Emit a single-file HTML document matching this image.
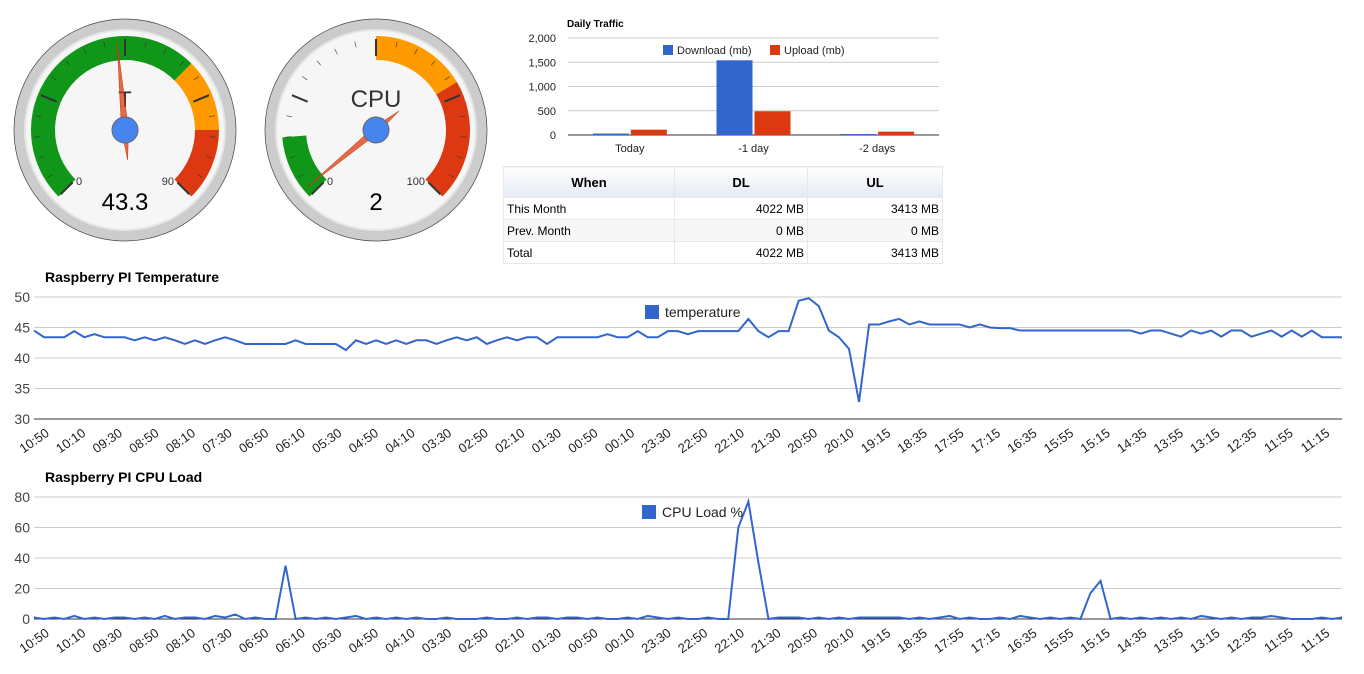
<!DOCTYPE html>
<html><head><meta charset="utf-8">
<style>
body{margin:0;background:#fff;font-family:"Liberation Sans",Arial,sans-serif;}
svg{position:absolute;left:0;top:0;}
table{position:absolute;left:503px;top:166px;border-collapse:collapse;font-size:12px;color:#000;}
td,th{border:1px solid #e8e8e8;padding:0 3px;height:21px;}
th{height:30px;background:linear-gradient(#fff,#e4e9f4);font-weight:bold;font-size:13px;}
td.n{text-align:right}
tr.alt td{background:#f7f7f7}
</style></head>
<body>
<svg id="s" width="1364" height="674"></svg>
<table>
<tr><th style="width:164px">When</th><th style="width:126px">DL</th><th style="width:128px">UL</th></tr>
<tr><td>This Month</td><td class="n">4022 MB</td><td class="n">3413 MB</td></tr>
<tr class="alt"><td>Prev. Month</td><td class="n">0 MB</td><td class="n">0 MB</td></tr>
<tr><td>Total</td><td class="n">4022 MB</td><td class="n">3413 MB</td></tr>
</table>
<script>
const tempValues=[44.5,43.4,43.4,43.4,44.4,43.4,43.9,43.4,43.4,43.4,42.9,43.4,42.9,43.4,42.9,42.3,42.9,42.3,42.9,43.4,42.9,42.3,42.3,42.3,42.3,42.3,42.9,42.3,42.3,42.3,42.3,41.3,42.9,42.3,42.9,42.3,42.9,42.3,42.9,42.9,42.3,42.9,43.4,42.9,43.4,42.3,42.9,43.4,42.9,43.4,43.4,42.3,43.4,43.4,43.4,43.4,43.4,43.9,43.4,43.4,44.4,43.4,43.4,44.4,44.4,43.9,44.4,44.4,44.4,44.4,44.4,46.4,44.4,43.4,44.4,44.4,49.4,49.8,48.5,44.5,43.4,41.5,32.8,45.5,45.5,46,46.4,45.5,46,45.5,45.5,45.5,45.5,45,45.5,45,44.9,44.9,44.5,44.5,44.5,44.5,44.5,44.5,44.5,44.5,44.5,44.5,44.5,44.5,44,44.5,44.5,44,43.5,44.5,44,44.5,43.5,44.5,44.5,43.5,44,44.5,43.5,44.5,43.5,44.5,43.4,43.4,43.4];
const cpuValues=[1,0,1,0,2,0,1,0,1,1,0,1,0,2,0,1,1,0,2,1,3,0,1,0,0,35,0,1,0,1,0,1,2,0,1,0,1,0,1,0,0,1,0,0,0,1,0,0,1,0,1,1,0,1,1,0,1,0,0,1,0,2,1,0,1,0,0,1,0,0,60,77,37,0,1,1,1,0,1,0,1,0,1,1,1,1,1,0,1,0,1,2,0,1,0,0,1,0,2,1,0,1,0,1,0,17,25,0,1,0,1,0,1,0,1,0,2,1,0,1,0,1,1,2,1,0,0,0,1,0,1];
const timeLabels=["10:50","10:10","09:30","08:50","08:10","07:30","06:50","06:10","05:30","04:50","04:10","03:30","02:50","02:10","01:30","00:50","00:10","23:30","22:50","22:10","21:30","20:50","20:10","19:15","18:35","17:55","17:15","16:35","15:55","15:15","14:35","13:55","13:15","12:35","11:55","11:15"];
const trafficCats=["Today","-1 day","-2 days"];
const downloadMb=[30,1540,20];
const uploadMb=[110,490,70];
const tempTicks=[30,35,40,45,50];
const cpuTicks=[0,20,40,60,80];
const trafficTicks=[0,500,1000,1500,2000];
const tempGaugeValue=43.3, cpuGaugeValue=2;

const S=document.getElementById('s'),NS='http://www.w3.org/2000/svg';
function mk(t,a,p){const e=document.createElementNS(NS,t);for(const k in a)e.setAttribute(k,a[k]);(p||S).appendChild(e);return e;}
function txt(x,y,s,a,p){const e=mk('text',Object.assign({x:x,y:y,'font-family':'Liberation Sans, Arial, sans-serif'},a),p);e.textContent=s;return e;}

function pt(cx,cy,r,deg){const a=(deg-90)*Math.PI/180;return [cx+r*Math.cos(a),cy+r*Math.sin(a)];}
function band(cx,cy,r1,r2,a1,a2,col,p){const p1=pt(cx,cy,r2,a1),p2=pt(cx,cy,r2,a2),p3=pt(cx,cy,r1,a2),p4=pt(cx,cy,r1,a1);const l=(a2-a1)>180?1:0;
 return mk('path',{d:`M${p1}A${r2},${r2} 0 ${l} 1 ${p2}L${p3}A${r1},${r1} 0 ${l} 0 ${p4}Z`,fill:col},p);}
function gauge(cx,cy,name,val,max,bands,maxLbl){
 const g=mk('g',{});
 
 
 mk('circle',{cx:cx,cy:cy,r:111,fill:'#ccc',stroke:'#444','stroke-width':0.7},g);
 mk('circle',{cx:cx,cy:cy,r:101,fill:'#e6e6e6'},g);
 mk('circle',{cx:cx,cy:cy,r:99,fill:'#f6f6f6'},g);
 const A=v=>-135+270*v/max;
 bands.forEach(b=>{const e=band(cx,cy,70,94,A(b[0]),A(b[1]),b[2],g);});
 for(let i=0;i<=20;i++){const a=-135+13.5*i;const major=i%5==0;const q=pt(cx,cy,91,a),r=pt(cx,cy,major?74:85,a);
  mk('line',{x1:q[0],y1:q[1],x2:r[0],y2:r[1],stroke:'#333','stroke-width':major?2:0.6},g);}
 txt(cx-49,cy+55,'0',{'font-size':11,fill:'#333'},g);
 txt(cx+49,cy+55,maxLbl,{'font-size':11,fill:'#333','text-anchor':'end'},g);
 txt(cx,cy-23,name,{'font-size':name=='T'?22:24,fill:'#333','text-anchor':'middle'},g);
 txt(cx,cy+80,String(val),{'font-size':24,fill:'#000','text-anchor':'middle'},g);
 const a=A(val);const t=pt(cx,cy,90,a),b=pt(cx,cy,-30,a),l=pt(cx,cy,3.5,a-90),r=pt(cx,cy,3.5,a+90);
 const n=mk('path',{d:`M${t}L${l}L${b}L${r}Z`,fill:'#dc3912','fill-opacity':0.75,stroke:'#c63310','stroke-width':0.5},g);
 
 mk('circle',{cx:cx,cy:cy,r:13,fill:'#4684ee',stroke:'#666','stroke-width':1},g);
}
gauge(125,130,'T',tempGaugeValue,90,[[0,60,'#109618'],[60,75,'#ff9900'],[75,90,'#dc3912']],'90');
gauge(376,130,'CPU',cpuGaugeValue,100,[[0,15,'#109618'],[50,72,'#ff9900'],[72,100,'#dc3912']],'100');

(function(){
 const g=mk('g',{});
 const x0=568,x1=939,y0=135,y1=38,y=v=>y0-(v/2000)*(y0-y1);
 txt(567,27,'Daily Traffic',{'font-size':10,'font-weight':'bold'},g);
 trafficTicks.forEach(v=>{mk('line',{x1:x0,x2:x1,y1:y(v),y2:y(v),stroke:v?'#ccc':'#333'},g);
  txt(556,y(v)+4,v.toLocaleString('en-US'),{'font-size':11,fill:'#222','text-anchor':'end'},g);});
 const cw=(x1-x0)/3;
 trafficCats.forEach((c,i)=>{const cx=x0+cw*(i+0.5);
  const d=mk('rect',{x:cx-37,y:y(downloadMb[i]),width:36,height:y0-y(downloadMb[i]),fill:'#3366cc'},g);
  
  const u=mk('rect',{x:cx+1,y:y(uploadMb[i]),width:36,height:y0-y(uploadMb[i]),fill:'#dc3912'},g);
  
  txt(cx,152,c,{'font-size':11,fill:'#222','text-anchor':'middle'},g);});
 mk('rect',{x:663,y:45,width:10,height:10,fill:'#3366cc'},g);txt(677,54,'Download (mb)',{'font-size':11,fill:'#222'},g);
 mk('rect',{x:770,y:45,width:10,height:10,fill:'#dc3912'},g);txt(784,54,'Upload (mb)',{'font-size':11,fill:'#222'},g);
})();

function lineChart(name,title,titleY,top,bot,vmin,vmax,ticks,vals,legend,lx){
 const g=mk('g',{});
 const x0=34,x1=1342,y=v=>bot-(v-vmin)/(vmax-vmin)*(bot-top);
 const step=(x1-x0)/(vals.length-1),x=i=>x0+i*step;
 const lstep=(x1-x0)*4/143;
 txt(45,titleY,title,{'font-size':14,'font-weight':'bold'},g);
 ticks.forEach(v=>{mk('line',{x1:x0,x2:x1,y1:y(v),y2:y(v),stroke:v==vmin?'#333':'#ccc'},g);
  txt(30,y(v)+5,String(v),{'font-size':14,fill:'#444','text-anchor':'end'},g);});
 timeLabels.forEach((l,j)=>{const xx=x0+j*lstep;
  txt(0,0,l,{'font-size':13,fill:'#222','text-anchor':'end',transform:`translate(${xx+16},${bot+16}) rotate(-35)`},g);});
 const p=mk('polyline',{points:vals.map((v,i)=>x(i)+','+y(v)).join(' '),fill:'none',stroke:'#3366cc','stroke-width':2},g);
 
 const r=mk('rect',{x:lx,y:top+8,width:14,height:14,fill:'#3366cc'},g);
 
 txt(lx+20,top+20,legend,{'font-size':14,fill:'#222'},g);
}
lineChart('temperature-chart','Raspberry PI Temperature',282,297,419,30,50,tempTicks,tempValues,'temperature',645);
lineChart('cpu-load-chart','Raspberry PI CPU Load',482,497,619,0,80,cpuTicks,cpuValues,'CPU Load %',642);
</script>
</body></html>
